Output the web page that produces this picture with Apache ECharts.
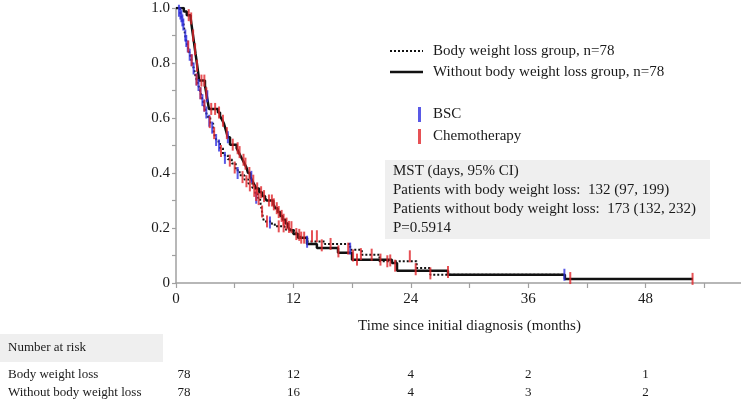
<!DOCTYPE html>
<html><head><meta charset="utf-8">
<script src="https://cdn.jsdelivr.net/npm/echarts@6/dist/echarts.min.js"></script>
<style>html,body{margin:0;padding:0;background:#fff}#c{width:741px;height:403px}</style>
</head><body><div id="c"></div>
<script>
// Kaplan-Meier step points [months, survival]
const bwlCurve = [[0,1.000],[0.4,0.987],[0.5,0.974],[0.6,0.962],[0.7,0.949],[0.8,0.936],[0.9,0.910],[1.0,0.885],[1.1,0.872],[1.3,0.846],[1.5,0.821],[1.7,0.795],[1.9,0.769],[2.0,0.750],[2.2,0.730],[2.4,0.705],[2.6,0.680],[2.8,0.655],[3.0,0.630],[3.2,0.605],[3.5,0.580],[3.8,0.555],[4.0,0.530],[4.2,0.515],[4.5,0.490],[4.8,0.465],[5.3,0.450],[5.7,0.435],[6.1,0.410],[6.5,0.392],[7.0,0.376],[7.4,0.362],[7.8,0.346],[8.1,0.326],[8.35,0.310],[8.6,0.297],[8.75,0.268],[8.9,0.236],[9.0,0.224],[9.8,0.215],[10.1,0.206],[11.1,0.195],[11.8,0.188],[12.3,0.176],[12.7,0.164],[13.4,0.151],[15.2,0.142],[17.8,0.121],[19.0,0.103],[20.8,0.079],[24.6,0.055],[26.0,0.030],[39.75,0.030]];
const noBwlCurve = [[0,1.000],[0.8,0.987],[1.1,0.974],[1.5,0.962],[1.6,0.936],[1.7,0.910],[1.8,0.885],[1.9,0.859],[2.0,0.833],[2.1,0.808],[2.2,0.782],[2.3,0.756],[2.35,0.736],[2.96,0.718],[3.05,0.700],[3.15,0.679],[3.25,0.658],[3.37,0.633],[4.29,0.620],[4.5,0.607],[4.7,0.594],[4.9,0.580],[5.1,0.555],[5.3,0.530],[5.52,0.503],[6.2,0.490],[6.4,0.476],[6.6,0.462],[6.8,0.448],[7.0,0.434],[7.2,0.420],[7.36,0.400],[7.6,0.386],[7.8,0.372],[8.0,0.358],[8.2,0.344],[8.5,0.330],[8.8,0.316],[9.1,0.308],[9.27,0.300],[9.95,0.286],[10.15,0.272],[10.4,0.258],[10.65,0.244],[10.9,0.230],[11.2,0.216],[11.45,0.204],[11.65,0.192],[12.0,0.178],[12.47,0.165],[13.39,0.142],[14.4,0.127],[16.56,0.110],[17.99,0.085],[22.07,0.073],[22.59,0.045],[27.8,0.030],[39.75,0.015],[52.84,0.015]];
// censor marks [months, survival]
const bscCensor = [[0.3,0.99],[0.45,0.98],[0.55,0.97],[0.65,0.955],[0.75,0.94],[0.95,0.90],[1.05,0.88],[1.2,0.86],[1.4,0.83],[1.6,0.81],[1.8,0.78],[2.1,0.74],[2.3,0.72],[2.5,0.69],[2.7,0.665],[2.9,0.645],[3.1,0.62],[3.2,0.679],[3.4,0.59],[3.7,0.565],[4.1,0.52],[4.4,0.50],[5.0,0.455],[5.3,0.53],[6.3,0.40],[7.7,0.386],[8.2,0.31],[9.6,0.22],[13.4,0.15],[17.8,0.125],[39.7,0.03]];
const chemoCensor = [[1.3,0.974],[1.55,0.962],[1.75,0.90],[1.95,0.85],[2.15,0.79],[2.6,0.736],[2.9,0.736],[3.1,0.69],[3.6,0.633],[4.0,0.633],[4.4,0.62],[4.8,0.59],[5.2,0.545],[5.8,0.503],[6.3,0.49],[6.5,0.476],[6.9,0.448],[7.1,0.434],[7.5,0.40],[7.9,0.372],[8.3,0.344],[8.7,0.33],[9.0,0.316],[9.5,0.30],[9.8,0.30],[10.0,0.286],[10.3,0.272],[10.5,0.258],[10.8,0.244],[11.0,0.23],[11.3,0.216],[11.55,0.204],[11.8,0.203],[12.3,0.178],[12.8,0.165],[13.1,0.165],[13.9,0.17],[14.4,0.17],[14.9,0.137],[16.6,0.115],[18.1,0.10],[18.5,0.085],[18.9,0.105],[20.9,0.085],[21.9,0.082],[22.4,0.063],[23.9,0.097],[24.5,0.05],[26.0,0.035],[27.8,0.04],[40.3,0.018],[52.8,0.015],
  [1.25,0.86],[1.6,0.81],[2.1,0.74],[2.5,0.69],[2.9,0.645],[3.45,0.585],[3.9,0.545],[4.6,0.48],[5.5,0.445],[6.0,0.42],[6.8,0.385],[7.2,0.37],[7.55,0.355],[8.0,0.335],[8.2,0.32],[8.45,0.305],[8.8,0.26],[9.3,0.224],[10.5,0.206],[11.0,0.206],[12.6,0.175],[15.8,0.142],[17.6,0.125],[20.0,0.103],[21.6,0.079]];
const riskTimes = [0, 12, 24, 36, 48];
const riskBwl = [78, 12, 4, 2, 1];
const riskNoBwl = [78, 16, 4, 3, 2];
const riskRows = ['Body weight loss', 'Without body weight loss'];
const seriesNames = ['Body weight loss group, n=78', 'Without body weight loss group, n=78'];
const censorNames = ['BSC', 'Chemotherapy'];
const mstLines = ['MST (days, 95% CI)', 'Patients with body weight loss:  132 (97, 199)', 'Patients without body weight loss:  173 (132, 232)', 'P=0.5914'];

const FF = '"Liberation Serif", "Times New Roman", serif';
const TXT = '#1a1a1a';
const AX = '#a0a0a0';
const chart = echarts.init(document.getElementById('c'), null, {renderer: 'canvas'});
chart.setOption({
  animation: false,
  backgroundColor: '#fff',
  grid: {left: 176, top: 8, width: 587, height: 275, containLabel: false, outerBoundsMode: 'none'},
  xAxis: {
    type: 'value', min: 0, max: 60, interval: 6,
    axisLine: {lineStyle: {color: AX, width: 1.5}},
    axisTick: {length: 5, lineStyle: {color: AX, width: 1.2}},
    axisLabel: {formatter: v => (v % 12 === 0 && v < 60 ? String(v) : ''), color: TXT, fontFamily: FF, fontSize: 15, margin: 9},
    splitLine: {show: false},
    name: 'Time since initial diagnosis (months)', nameLocation: 'middle', nameGap: 36,
    nameTextStyle: {color: TXT, fontFamily: FF, fontSize: 15}
  },
  yAxis: {
    type: 'value', min: 0, max: 1, interval: 0.1,
    axisLine: {show: true, lineStyle: {color: AX, width: 1.5}},
    axisTick: {show: true, length: 4, lineStyle: {color: AX, width: 1.2}},
    axisLabel: {formatter: v => { const k = Math.round(v * 10); return k % 2 === 0 ? (k === 0 ? '0' : (k / 10).toFixed(1)) : ''; }, color: TXT, fontFamily: FF, fontSize: 15, margin: 6},
    splitLine: {show: false}
  },
  legend: [
    {data: censorNames, orient: 'vertical', left: 413, top: 102, itemWidth: 3, itemHeight: 15, itemGap: 7, icon: 'rect', selectedMode: false,
     textStyle: {color: TXT, fontFamily: FF, fontSize: 15, padding: [0, 0, 0, 7]}}
  ],
  series: [
    {name: seriesNames[0], type: 'line', step: 'end', data: bwlCurve, symbol: 'none', z: 2,
     lineStyle: {color: '#111', width: 2, type: [2, 2]}, itemStyle: {color: '#111'}},
    {name: seriesNames[1], type: 'line', step: 'end', data: noBwlCurve, symbol: 'none', z: 2,
     lineStyle: {color: '#111', width: 2.5, type: 'solid'}, itemStyle: {color: '#111'}},
    {name: censorNames[0], type: 'scatter', data: bscCensor, symbol: 'rect', symbolSize: [2, 12], z: 3,
     itemStyle: {color: '#2f2fe0'}},
    {name: censorNames[1], type: 'scatter', data: chemoCensor, symbol: 'rect', symbolSize: [2, 12], z: 3,
     itemStyle: {color: '#e0262a'}}
  ]
});

const graphics = [];
// line legend
const legY = [51, 72];
graphics.push({type: 'line', shape: {x1: 390, y1: legY[0], x2: 423, y2: legY[0]}, style: {stroke: '#111', lineWidth: 2, lineDash: [2, 2]}});
graphics.push({type: 'line', shape: {x1: 390, y1: legY[1], x2: 423, y2: legY[1]}, style: {stroke: '#111', lineWidth: 2.5}});
seriesNames.forEach((s, i) => graphics.push({type: 'text', x: 433, y: legY[i], style: {text: s, fill: TXT, font: '15px ' + FF, textVerticalAlign: 'middle'}}));
// MST box
graphics.push({type: 'rect', shape: {x: 385, y: 160, width: 325, height: 79}, style: {fill: '#efefef'}, silent: true});
mstLines.forEach((s, i) => graphics.push({type: 'text', x: 393, y: 171.5 + i * 19, style: {text: s, fill: TXT, font: '15px ' + FF, textVerticalAlign: 'middle'}}));
// Number at risk table
graphics.push({type: 'rect', shape: {x: 0, y: 334, width: 163, height: 28}, style: {fill: '#efefef'}, silent: true});
graphics.push({type: 'text', x: 8, y: 348, style: {text: 'Number at risk', fill: TXT, font: '13px ' + FF, textVerticalAlign: 'middle'}});
const rowY = [375, 393];
riskRows.forEach((r, i) => graphics.push({type: 'text', x: 8, y: rowY[i], style: {text: r, fill: TXT, font: '13px ' + FF, textVerticalAlign: 'middle'}}));
[riskBwl, riskNoBwl].forEach((arr, i) => arr.forEach((n, j) => {
  const px = chart.convertToPixel({xAxisIndex: 0}, riskTimes[j]) + (j === 0 ? 8 : 0);
  graphics.push({type: 'text', x: px, y: rowY[i], style: {text: String(n), fill: TXT, font: '13px ' + FF, textAlign: 'center', textVerticalAlign: 'middle'}});
}));
chart.setOption({graphic: graphics});
</script></body></html>
